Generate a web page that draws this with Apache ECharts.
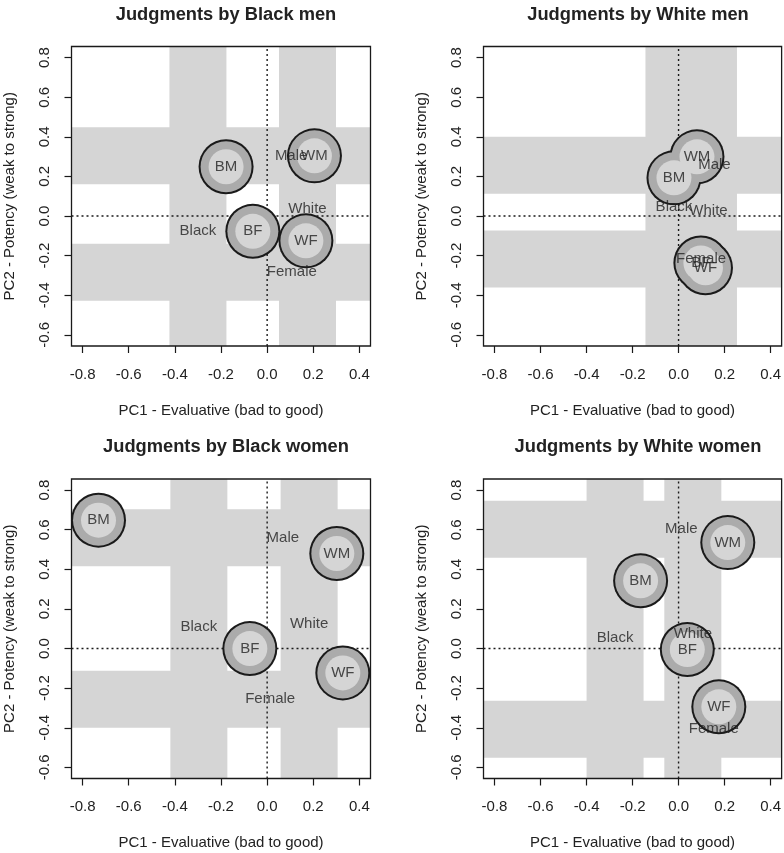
<!DOCTYPE html>
<html><head><meta charset="utf-8">
<script src="https://cdn.jsdelivr.net/npm/echarts@6/dist/echarts.min.js"></script>
<style>html,body{margin:0;padding:0;background:#fff}#c{width:784px;height:853px}</style>
</head><body><div id="c"></div>
<script>
// ---- data ----
const titles = ['Judgments by Black men', 'Judgments by White men', 'Judgments by Black women', 'Judgments by White women'];
const stimNames = ['BM', 'WM', 'BF', 'WF'];
const attrNames = ['Black', 'White', 'Male', 'Female'];

const stimX_blackMen = [-0.178, 0.205, -0.062, 0.168];
const stimY_blackMen = [0.249, 0.304, -0.077, -0.125];
const attrX_blackMen = [-0.300, 0.175, 0.104, 0.107];
const attrY_blackMen = [-0.077, 0.035, 0.304, -0.284];

const stimX_whiteMen = [-0.020, 0.080, 0.097, 0.117];
const stimY_whiteMen = [0.193, 0.299, -0.237, -0.261];
const attrX_whiteMen = [-0.020, 0.130, 0.156, 0.098];
const attrY_whiteMen = [0.044, 0.025, 0.257, -0.217];

const stimX_blackWomen = [-0.731, 0.302, -0.075, 0.328];
const stimY_blackWomen = [0.648, 0.480, 0.000, -0.123];
const attrX_blackWomen = [-0.296, 0.182, 0.068, 0.013];
const attrY_blackWomen = [0.109, 0.126, 0.559, -0.256];

const stimX_whiteWomen = [-0.165, 0.214, 0.038, 0.175];
const stimY_whiteWomen = [0.342, 0.535, -0.005, -0.294];
const attrX_whiteWomen = [-0.276, 0.062, 0.012, 0.153];
const attrY_whiteWomen = [0.052, 0.076, 0.602, -0.407];

const xTicks = [-0.8, -0.6, -0.4, -0.2, 0, 0.2, 0.4];
const yTicks = [-0.6, -0.4, -0.2, 0, 0.2, 0.4, 0.6, 0.8];
const xLim = [-0.848, 0.448];
const yLim = [-0.656, 0.856];
const xTitle = 'PC1 - Evaluative (bad to good)';
const yTitle = 'PC2 - Potency (weak to strong)';

const panels = [
  [stimX_blackMen, stimY_blackMen, attrX_blackMen, attrY_blackMen],
  [stimX_whiteMen, stimY_whiteMen, attrX_whiteMen, attrY_whiteMen],
  [stimX_blackWomen, stimY_blackWomen, attrX_blackWomen, attrY_blackWomen],
  [stimX_whiteWomen, stimY_whiteWomen, attrX_whiteWomen, attrY_whiteWomen]
];

// ---- layout / style ----
const FONT = 'Liberation Sans, Arial, Helvetica, sans-serif';
const TXT = '#222222';
const gridPos = [
  {left: 71.5, top: 46.5}, {left: 483.5, top: 46.5},
  {left: 71.5, top: 479}, {left: 483.5, top: 479}
];
const GW = 299, GH = 299.5;
const titleTop = [1, 1, 433, 433];

const chart = echarts.init(document.getElementById('c'), null, {renderer: 'canvas'});
const grid = [], xAxis = [], yAxis = [], series = [], title = [];

panels.forEach((p, i) => {
  const [sx, sy, ax, ay] = p;
  grid.push({left: gridPos[i].left, top: gridPos[i].top, width: GW, height: GH,
    show: true, backgroundColor: 'transparent', borderColor: '#1a1a1a', borderWidth: 1.3, z: 10});
  title.push({text: titles[i], left: gridPos[i].left + GW / 2, top: titleTop[i], textAlign: 'center',
    textStyle: {fontFamily: FONT, fontWeight: 'bold', fontSize: 18.3, color: TXT}});
  xAxis.push({type: 'value', gridIndex: i, min: xLim[0], max: xLim[1], position: 'bottom',
    name: xTitle, nameLocation: 'middle', nameGap: 57,
    nameTextStyle: {fontFamily: FONT, fontSize: 15, color: TXT},
    axisLine: {show: false, onZero: false}, splitLine: {show: false},
    axisTick: {show: true, length: 7, inside: false, customValues: xTicks, lineStyle: {color: '#1a1a1a', width: 1.2}},
    axisLabel: {show: true, customValues: xTicks, margin: 21, fontFamily: FONT, fontSize: 15, color: TXT,
      formatter: v => (Math.abs(v) < 1e-9 ? 0 : v).toFixed(1)}});
  yAxis.push({type: 'value', gridIndex: i, min: yLim[0], max: yLim[1], position: 'left',
    name: yTitle, nameLocation: 'middle', nameGap: 54, nameRotate: 90,
    nameTextStyle: {fontFamily: FONT, fontSize: 15, color: TXT},
    axisLine: {show: false, onZero: false}, splitLine: {show: false},
    axisTick: {show: true, length: 7, inside: false, customValues: yTicks, lineStyle: {color: '#1a1a1a', width: 1.2}},
    axisLabel: {show: true, customValues: yTicks, rotate: 90, margin: 19, fontFamily: FONT, fontSize: 15, color: TXT,
      formatter: v => (Math.abs(v) < 1e-9 ? 0 : v).toFixed(1)}});

  const base = {xAxisIndex: i, yAxisIndex: i, silent: true, animation: false};
  // bands
  [ax[0], ax[1]].forEach(bx => series.push(Object.assign({type: 'line', z: 1, clip: true, symbol: 'none',
    data: [[bx, yLim[0]], [bx, yLim[1]]], lineStyle: {color: '#d5d5d5', width: 57, cap: 'butt'}}, base)));
  [ay[2], ay[3]].forEach(by => series.push(Object.assign({type: 'line', z: 1, clip: true, symbol: 'none',
    data: [[xLim[0], by], [xLim[1], by]], lineStyle: {color: '#d5d5d5', width: 57, cap: 'butt'}}, base)));
  // dotted zero lines
  series.push(Object.assign({type: 'line', z: 2, symbol: 'none', data: [[0, yLim[0]], [0, yLim[1]]],
    lineStyle: {color: '#1a1a1a', width: 1.4, type: [2, 3]}}, base));
  series.push(Object.assign({type: 'line', z: 2, symbol: 'none', data: [[xLim[0], 0], [xLim[1], 0]],
    lineStyle: {color: '#1a1a1a', width: 1.4, type: [2, 3]}}, base));
  // circles (layered)
  const pts = sx.map((x, k) => [x, sy[k], stimNames[k]]);
  series.push(Object.assign({type: 'scatter', z: 3, symbol: 'circle', symbolSize: 55, data: pts,
    itemStyle: {color: '#1a1a1a', opacity: 1}}, base));
  series.push(Object.assign({type: 'scatter', z: 4, symbol: 'circle', symbolSize: 51, data: pts,
    itemStyle: {color: '#ababab', opacity: 1}}, base));
  series.push(Object.assign({type: 'scatter', z: 5, symbol: 'circle', symbolSize: 35, data: pts,
    itemStyle: {color: '#d5d5d5', opacity: 1}}, base));
  // stimulus labels
  series.push(Object.assign({type: 'scatter', z: 6, symbol: 'circle', symbolSize: 1, data: pts,
    itemStyle: {color: 'rgba(0,0,0,0)'},
    label: {show: true, position: 'inside', formatter: d => d.data[2], fontFamily: FONT, fontSize: 15, color: TXT}}, base));
  // attribute labels
  const apts = ax.map((x, k) => [x, ay[k], attrNames[k]]);
  series.push(Object.assign({type: 'scatter', z: 7, symbol: 'circle', symbolSize: 1, data: apts,
    itemStyle: {color: 'rgba(0,0,0,0)'},
    label: {show: true, position: 'inside', formatter: d => d.data[2], fontFamily: FONT, fontSize: 15, color: TXT}}, base));
});

chart.setOption({animation: false, backgroundColor: '#fff', title, grid, xAxis, yAxis, series});
</script></body></html>
